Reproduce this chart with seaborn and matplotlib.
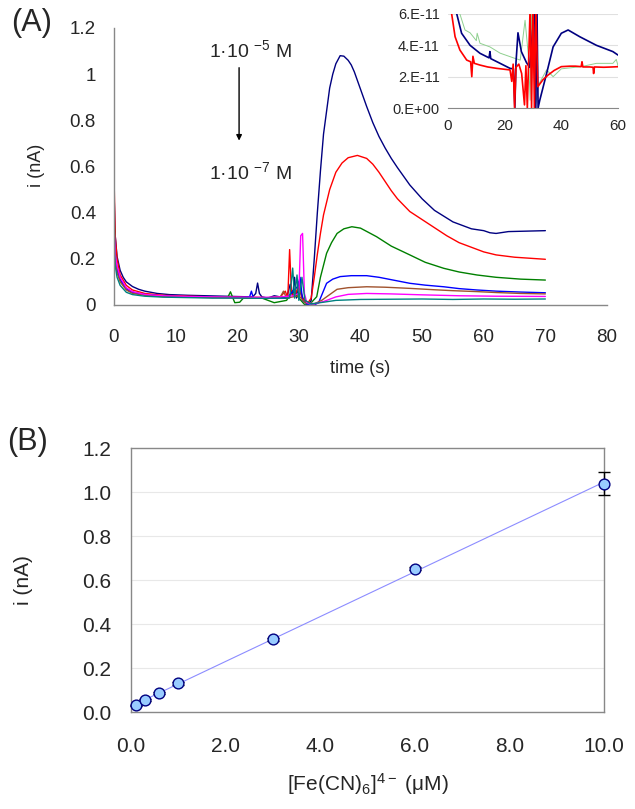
import numpy as np
import pandas as pd
import matplotlib
matplotlib.use("Agg")
import matplotlib.pyplot as plt
import seaborn as sns

sns.set_style("white")
plt.rcParams['font.family'] = ['Liberation Sans', 'DejaVu Sans']
plt.rcParams['mathtext.default'] = 'regular'

# ---------------- Panel A: chronoamperograms (time in s, current in nA) -------------
t_navy = [0, 0.05, 0.2, 0.5, 1, 1.5, 2, 3, 4, 5, 7, 9, 12, 15, 18, 21, 22.5, 23, 23.3, 23.6, 24, 25, 26, 27, 28,
          28.6, 29, 29.3, 29.6, 30, 30.4, 30.8, 31.2, 31.6, 32, 32.5, 33, 33.5, 34, 34.5, 35, 35.5, 36, 36.7,
          37.3, 38, 38.5, 39, 40, 41, 42, 43, 44, 45, 46, 48, 50, 52, 55, 58, 60, 61, 62, 64, 67, 70]
i_navy = [1.20, 0.45, 0.30, 0.21, 0.15, 0.12, 0.10, 0.08, 0.068, 0.06, 0.05, 0.045, 0.042, 0.040, 0.038, 0.036,
          0.035, 0.05, 0.095, 0.05, 0.035, 0.03, 0.04, 0.035, 0.03, 0.09, 0.04, 0.12, 0.03, 0.10, 0.05, 0.02, 0.01,
          0.005, 0.02, 0.20, 0.40, 0.58, 0.74, 0.84, 0.94, 1.00, 1.045, 1.08, 1.078, 1.06, 1.04, 1.01, 0.935, 0.86,
          0.79, 0.73, 0.68, 0.635, 0.595, 0.52, 0.46, 0.41, 0.36, 0.33, 0.322, 0.313, 0.310, 0.318, 0.320, 0.322]

t_red = [0, 0.05, 0.2, 0.5, 1, 2, 3, 5, 8, 12, 16, 20, 24, 25, 27, 27.8, 28.2, 28.5, 28.8, 29.3, 30, 30.5, 31,
         31.5, 32, 32.5, 33, 33.5, 34, 35, 36, 37, 38, 39.5, 41, 42, 43, 44, 45, 46, 48, 50, 52, 54, 56, 58, 60,
         62, 65, 70]
i_red = [0.89, 0.50, 0.30, 0.20, 0.13, 0.085, 0.065, 0.05, 0.042, 0.038, 0.035, 0.034, 0.033, 0.03, 0.035, 0.06,
         0.03, 0.24, 0.05, 0.04, 0.08, 0.03, 0.02, 0.01, 0.03, 0.12, 0.22, 0.31, 0.39, 0.50, 0.575, 0.615, 0.638,
         0.648, 0.635, 0.61, 0.575, 0.535, 0.495, 0.46, 0.405, 0.37, 0.335, 0.30, 0.27, 0.25, 0.23, 0.217, 0.207,
         0.198]

t_green = [0, 0.05, 0.2, 0.5, 1, 2, 3, 5, 8, 12, 16, 18.5, 18.9, 19.3, 19.6, 20.4, 21, 24, 26, 28, 29, 30, 31, 32,
           32.9, 33.5, 34.5, 35.3, 36.2, 37.3, 38.6, 40, 42.6, 45, 48, 50.5, 53.5, 56, 58.9, 62, 66, 70]
i_green = [0.50, 0.35, 0.22, 0.16, 0.11, 0.07, 0.055, 0.045, 0.038, 0.035, 0.033, 0.035, 0.057, 0.03, 0.01,
           0.012, 0.03, 0.03, 0.01, 0.02, 0.06, 0.03, 0.0, 0.01, 0.036, 0.12, 0.224, 0.27, 0.31, 0.33, 0.339,
           0.333, 0.296, 0.255, 0.217, 0.185, 0.159, 0.143, 0.13, 0.12, 0.112, 0.108]

t_blue = [0, 0.05, 0.2, 0.5, 1, 2, 3, 5, 8, 12, 16, 20, 22, 22.3, 22.6, 25, 28, 29.8, 30.2, 30.6, 31.5, 32.5,
          33.2, 34.5, 35.5, 36.7, 38.5, 41, 43, 45.3, 48, 50.5, 53.5, 56, 58.9, 62, 66, 70]
i_blue = [0.46, 0.30, 0.20, 0.15, 0.11, 0.07, 0.055, 0.045, 0.038, 0.035, 0.033, 0.032, 0.035, 0.06, 0.03, 0.03,
          0.03, 0.08, 0.12, 0.02, 0.0, 0.0, 0.01, 0.094, 0.112, 0.123, 0.127, 0.127, 0.12, 0.108, 0.094, 0.086,
          0.079, 0.071, 0.065, 0.06, 0.056, 0.053]

t_brown = [0, 0.05, 0.2, 0.5, 1, 2, 3, 5, 8, 12, 16, 20, 24, 27, 27.5, 28, 30, 31, 32.5, 33.7, 35, 36.2, 38,
           41, 44, 48, 52, 55, 58.9, 62, 66, 70]
i_brown = [0.44, 0.28, 0.19, 0.14, 0.10, 0.065, 0.05, 0.042, 0.036, 0.034, 0.032, 0.031, 0.03, 0.035, 0.06,
           0.03, 0.04, 0.01, 0.005, 0.02, 0.045, 0.068, 0.075, 0.079, 0.077, 0.072, 0.066, 0.062, 0.058, 0.054,
           0.05, 0.048]

t_magenta = [0, 0.05, 0.2, 0.5, 1, 2, 3, 5, 8, 12, 16, 20, 24, 27, 29, 30, 30.3, 30.6, 30.9, 31.3, 32.5, 34, 36,
             38, 41, 45, 50, 56, 62, 70]
i_magenta = [0.45, 0.32, 0.22, 0.17, 0.12, 0.075, 0.058, 0.046, 0.04, 0.037, 0.035, 0.034, 0.033, 0.035, 0.04,
             0.05, 0.30, 0.31, 0.05, 0.01, 0.005, 0.015, 0.035, 0.046, 0.05, 0.048, 0.044, 0.04, 0.038, 0.037]

t_teal = [0, 0.05, 0.2, 0.5, 1, 2, 3, 5, 8, 12, 16, 20, 24, 28.5, 29, 29.3, 29.7, 30, 30.5, 31, 32, 34, 36,
          40, 45, 50, 55, 60, 65, 70]
i_teal = [0.42, 0.26, 0.17, 0.12, 0.085, 0.055, 0.045, 0.038, 0.034, 0.032, 0.03, 0.03, 0.029, 0.03, 0.16,
          0.03, 0.13, 0.02, 0.12, 0.02, 0.005, 0.012, 0.02, 0.024, 0.025, 0.026, 0.024, 0.026, 0.025, 0.026]

series_a = [
    ("navy", t_navy, i_navy, "#000080"),
    ("red", t_red, i_red, "#ff0000"),
    ("green", t_green, i_green, "#008000"),
    ("blue", t_blue, i_blue, "#0000ff"),
    ("brown", t_brown, i_brown, "#a0522d"),
    ("magenta", t_magenta, i_magenta, "#ff00ff"),
    ("teal", t_teal, i_teal, "#008080"),
]
a_xticks = [0, 10, 20, 30, 40, 50, 60, 70, 80]
a_yticks = [0, 0.2, 0.4, 0.6, 0.8, 1.0, 1.2]
a_yticklabels = ["0", "0.2", "0.4", "0.6", "0.8", "1", "1.2"]

# ---------------- Inset (units of 1e-11 A) ----------------
ti_red = [1.3, 2.5, 4.2, 6.6, 8.0, 8.4, 8.8, 9.3, 11.3, 14, 17.2, 20, 21.9, 22.5, 23.0, 23.5, 24.0, 25, 26,
          27.0, 27.5, 28.0, 29.0, 29.5, 30.0, 30.5, 31.0, 31.7, 33.5, 35.3, 37.5, 40, 43, 45, 47.0, 47.3, 47.6,
          50, 51.2, 51.4, 51.7, 55, 58, 60.5]
ii_red = [6.0, 4.55, 3.7, 3.06, 2.95, 2.0, 3.3, 2.85, 2.74, 2.62, 2.53, 2.47, 2.43, 1.7, 2.8, 0.0, 2.6, 2.8, 2.2,
          0.2, 2.7, 0.0, 6.5, 0.0, 6.5, 0.0, 6.5, 1.36, 1.8, 2.1, 2.4, 2.64, 2.67, 2.67, 2.64, 2.95, 2.62, 2.62,
          2.6, 2.2, 2.62, 2.6, 2.62, 2.64]

ti_navy = [3.1, 4.8, 7.8, 11.3, 14.5, 14.8, 15.1, 18.4, 21.9, 23.1, 23.6, 24.0, 24.7, 25.9, 27.7, 28.8, 30.6,
           31.0, 31.4, 31.8, 32.4, 34.8, 37.1, 40, 42.4, 46.5, 52.4, 58.2, 60]
ii_navy = [6.0, 4.77, 4.0, 3.49, 3.2, 3.6, 3.15, 2.85, 2.53, 2.5, 0.0, 2.9, 4.8, 3.6, 2.9, 2.6, 6.5, 0.0, 6.5,
           0.0, 0.5, 2.2, 3.9, 4.77, 4.98, 4.55, 4.0, 3.6, 3.38]

ti_green = [4.2, 6.0, 7.8, 10.0, 10.3, 11.3, 14.8, 18.4, 23.1, 25.5, 27.2, 28.4, 29.0, 29.5, 30.2, 31.0, 32.0,
            34.8, 37.1, 40, 47, 52.4, 58.2, 59.4, 60]
ii_green = [6.0, 4.98, 4.8, 4.3, 4.77, 4.13, 3.9, 3.5, 3.2, 3.06, 5.6, 3.3, 0.5, 6.0, 2.6, 0.3, 1.5, 2.43, 2.0,
            2.5, 2.64, 2.85, 2.85, 3.1, 2.7]

inset_yticks = [0, 2, 4, 6]
inset_yticklabels = ["0.E+00", "2.E-11", "4.E-11", "6.E-11"]
inset_xticks = [0, 20, 40, 60]

# ---------------- Panel B: calibration ----------------
conc = [0.1, 0.3, 0.6, 1.0, 3.0, 6.0, 10.0]
current = [0.030, 0.055, 0.088, 0.130, 0.330, 0.652, 1.037]
current_err = [0.004, 0.006, 0.005, 0.005, 0.008, 0.008, 0.052]
b_xticks = [0, 2, 4, 6, 8, 10]
b_yticks = [0, 0.2, 0.4, 0.6, 0.8, 1.0, 1.2]

# ================= Figure =================
fig = plt.figure(figsize=(6.35, 8.09), dpi=100)
axA = fig.add_axes([0.1795, 0.623, 0.7764, 0.3424])
axB = fig.add_axes([0.2063, 0.1199, 0.7449, 0.3263])
axI = fig.add_axes([0.7055, 0.8665, 0.2677, 0.1162])

grey = "#888888"

# ---- Panel A
for name, t, i, c in series_a:
    sns.lineplot(x=t, y=i, ax=axA, color=c, lw=1.0, estimator=None, sort=False)
axA.set_xlim(0, 80)
axA.set_ylim(0, 1.2)
axA.set_xticks(a_xticks)
axA.set_xticklabels([str(v) for v in a_xticks])
axA.set_yticks(a_yticks)
axA.set_yticklabels(a_yticklabels)
for s in ["top", "right"]:
    axA.spines[s].set_visible(False)
for s in ["left", "bottom"]:
    axA.spines[s].set_color(grey)
    axA.spines[s].set_linewidth(1.0)
axA.tick_params(axis="x", length=5, width=1, color=grey, direction="out", pad=12, labelsize=13.5)
axA.tick_params(axis="y", length=0, pad=13, labelsize=13.5)
axA.set_xlabel("time (s)", fontsize=13)
axA.set_ylabel("i (nA)", fontsize=13)
axA.xaxis.set_label_coords(0.5, -0.2)
axA.yaxis.set_label_coords(-0.14, 0.505)

axA.text(22.2, 1.105, "1·10 $^{-5}$ M", fontsize=14, ha="center", va="center")
axA.text(22.2, 0.576, "1·10 $^{-7}$ M", fontsize=14, ha="center", va="center")
axA.annotate("", xy=(20.3, 0.70), xytext=(20.3, 1.04),
             arrowprops=dict(arrowstyle="-|>", color="black", lw=1.0, mutation_scale=8))

fig.text(0.018, 0.972, "(A)", fontsize=22, ha="left", va="center")
fig.text(0.012, 0.454, "(B)", fontsize=22, ha="left", va="center")

# ---- Inset
sns.lineplot(x=ti_green, y=ii_green, ax=axI, color="#8fd08f", lw=0.7, estimator=None, sort=False)
sns.lineplot(x=ti_navy, y=ii_navy, ax=axI, color="#000080", lw=1.2, estimator=None, sort=False)
sns.lineplot(x=ti_red, y=ii_red, ax=axI, color="#ff0000", lw=1.2, estimator=None, sort=False)
axI.set_xlim(0, 60)
axI.set_ylim(0, 6)
axI.set_yticks(inset_yticks)
axI.set_yticklabels(inset_yticklabels)
axI.set_xticks(inset_xticks)
axI.set_xticklabels([str(v) for v in inset_xticks])
axI.grid(axis="y", color="#e0e0e0", lw=0.8)
axI.set_axisbelow(True)
for s in ["top", "right", "left"]:
    axI.spines[s].set_visible(False)
axI.spines["bottom"].set_color(grey)
axI.tick_params(axis="x", length=3, color=grey, direction="in", pad=8, labelsize=11)
axI.tick_params(axis="y", length=3, color=grey, direction="out", pad=3, labelsize=10.5)
axI.patch.set_alpha(0)

# ---- Panel B
dfB = pd.DataFrame({"conc": conc, "current": current})
sns.regplot(data=dfB, x="conc", y="current", ax=axB, scatter=False, ci=None,
            line_kws=dict(color="#8c8cff", lw=0.8), truncate=True)
axB.errorbar(conc, current, yerr=current_err, fmt="none", ecolor="black", elinewidth=1.0,
             capsize=4.5, capthick=1.0, zorder=3, clip_on=False)
sns.scatterplot(data=dfB, x="conc", y="current", ax=axB, s=60, color="#99ccff",
                edgecolor="#000080", linewidth=1.0, zorder=4, clip_on=False)
axB.set_xlim(0, 10)
axB.set_ylim(0, 1.2)
axB.set_xticks(b_xticks)
axB.set_xticklabels([f"{v:.1f}" for v in b_xticks])
axB.set_yticks(b_yticks)
axB.set_yticklabels([f"{v:.1f}" for v in b_yticks])
axB.grid(axis="y", color="#e8e8e8", lw=0.8)
axB.set_axisbelow(True)
for s in axB.spines.values():
    s.set_color(grey)
    s.set_linewidth(1.0)
axB.tick_params(axis="x", length=5, width=1, color=grey, direction="out", pad=13, labelsize=15)
axB.tick_params(axis="y", length=0, pad=14, labelsize=15)
axB.set_xlabel("[Fe(CN)$_6$]$^{4-}$ (μM)", fontsize=15)
axB.set_ylabel("i (nA)", fontsize=15)
axB.xaxis.set_label_coords(0.5, -0.222)
axB.yaxis.set_label_coords(-0.207, 0.5)

fig.savefig("out.png", dpi=100)
